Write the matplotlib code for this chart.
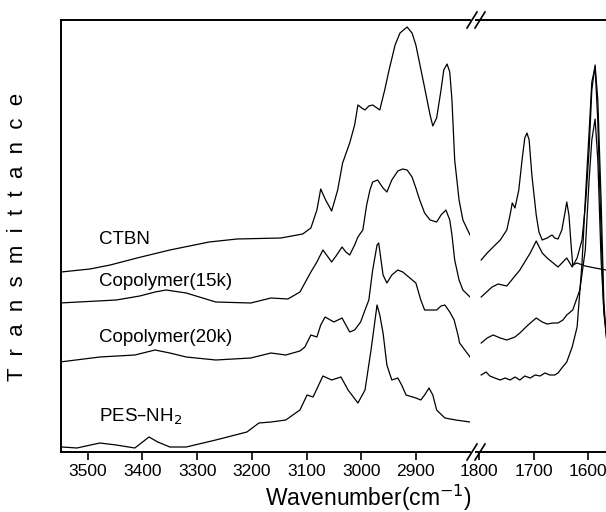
import matplotlib
matplotlib.use("Agg")
import matplotlib.pyplot as plt
from matplotlib.lines import Line2D

plt.rcParams['font.family'] = ['Liberation Sans', 'DejaVu Sans']

# ---------------- data (wavenumber cm-1, transmittance a.u.) ----------------
ctbn_left_wn = [3549, 3496, 3459, 3410, 3350, 3278, 3227, 3147, 3107, 3092, 3081, 3074, 3065,
                3054, 3043, 3034, 3021, 3012, 3006, 2999, 2993, 2986, 2979, 2971, 2966, 2957,
                2949, 2938, 2929, 2916, 2907, 2900, 2885, 2874, 2869, 2862, 2854, 2849, 2843,
                2838, 2834, 2829, 2821, 2814, 2801]
ctbn_left_t = [180, 183, 187, 194, 202, 210, 213, 214, 218, 224, 242, 263, 252,
               241, 262, 289, 309, 327, 347, 344, 342, 346, 347, 344, 342, 362,
               382, 407, 419, 425, 419, 407, 367, 337, 326, 334, 362, 382, 388,
               380, 352, 292, 252, 232, 217]
ctbn_right_wn = [1796, 1785, 1774, 1761, 1749, 1743, 1739, 1734, 1727, 1721, 1716, 1712, 1708,
                 1703, 1695, 1690, 1684, 1675, 1666, 1661, 1655, 1648, 1642, 1639, 1635, 1631,
                 1628, 1620, 1605, 1587, 1567, 1560]
ctbn_right_t = [192, 199, 205, 212, 222, 237, 249, 244, 262, 292, 314, 319, 312,
                277, 237, 220, 212, 214, 217, 214, 213, 222, 240, 250, 237, 207,
                187, 189, 186, 184, 182, 181]

c15_left_wn = [3551, 3448, 3405, 3377, 3357, 3320, 3266, 3202, 3165, 3134, 3112, 3103, 3092,
               3081, 3070, 3054, 3046, 3035, 3028, 3021, 3012, 3006, 2997, 2990, 2984, 2979,
               2970, 2960, 2953, 2944, 2933, 2924, 2916, 2907, 2900, 2893, 2884, 2874, 2862,
               2854, 2845, 2838, 2834, 2829, 2821, 2814, 2801]
c15_left_t = [149, 152, 156, 160, 162, 159, 150, 149, 154, 153, 160, 169, 180,
              190, 202, 190, 196, 205, 200, 197, 207, 215, 222, 247, 262, 270,
              272, 264, 260, 272, 281, 283, 282, 275, 264, 252, 239, 232, 230,
              237, 242, 232, 217, 192, 172, 162, 155]
c15_right_wn = [1796, 1776, 1765, 1749, 1725, 1706, 1695, 1684, 1675, 1655, 1639, 1629, 1620,
                1611, 1604, 1598, 1593, 1587, 1582, 1576, 1571, 1567, 1560]
c15_right_t = [155, 165, 168, 166, 182, 199, 211, 199, 194, 185, 194, 185, 194,
               212, 252, 302, 362, 387, 352, 252, 152, 117, 90]

c20_left_wn = [3551, 3478, 3414, 3377, 3350, 3320, 3266, 3202, 3165, 3138, 3112, 3103, 3092,
               3081, 3074, 3066, 3050, 3035, 3028, 3021, 3012, 3001, 2993, 2986, 2979, 2971,
               2968, 2960, 2953, 2944, 2933, 2924, 2900, 2891, 2884, 2874, 2862, 2854, 2847,
               2838, 2830, 2823, 2820, 2801]
c20_left_t = [90, 95, 97, 102, 99, 95, 92, 94, 99, 97, 101, 105, 117,
              115, 127, 135, 130, 134, 127, 120, 122, 130, 142, 152, 182, 207,
              209, 177, 169, 177, 182, 180, 169, 152, 142, 142, 142, 146, 147,
              140, 132, 117, 109, 95]
c20_right_wn = [1796, 1785, 1774, 1761, 1749, 1734, 1725, 1710, 1695, 1684, 1675, 1664, 1655,
                1646, 1639, 1628, 1615, 1605, 1598, 1593, 1587, 1582, 1576, 1571, 1567, 1560]
c20_right_t = [109, 114, 117, 114, 112, 115, 119, 127, 134, 130, 128, 129, 129,
               132, 137, 142, 162, 202, 272, 312, 333, 292, 192, 142, 122, 100]

pes_left_wn = [3547, 3520, 3478, 3448, 3414, 3388, 3372, 3350, 3320, 3266, 3209, 3187, 3165,
               3138, 3112, 3099, 3088, 3070, 3054, 3037, 3024, 3006, 2993, 2982, 2971, 2966,
               2960, 2953, 2944, 2933, 2926, 2918, 2900, 2891, 2884, 2876, 2869, 2862, 2847,
               2827, 2801]
pes_left_t = [5, 4, 9, 7, 4, 15, 10, 5, 5, 12, 20, 29, 30,
              32, 42, 57, 55, 76, 72, 75, 62, 49, 62, 102, 147, 137,
              119, 87, 72, 74, 67, 57, 54, 52, 57, 64, 57, 42, 34,
              32, 30]
pes_right_wn = [1796, 1787, 1780, 1771, 1761, 1752, 1743, 1734, 1725, 1716, 1706, 1697, 1688,
                1679, 1670, 1661, 1655, 1648, 1639, 1629, 1620, 1611, 1605, 1598, 1593, 1587,
                1582, 1576, 1571, 1567, 1560]
pes_right_t = [77, 80, 76, 74, 72, 74, 72, 75, 72, 76, 74, 77, 76,
               79, 77, 77, 79, 84, 90, 105, 125, 189, 252, 320, 370, 385,
               330, 220, 140, 120, 100]

labels = ['CTBN', 'Copolymer(15k)', 'Copolymer(20k)', 'PES\u2013NH$_2$']
label_wn = [3480, 3480, 3480, 3480]
label_t = [212, 170, 114, 35]

left_ticks = [3500, 3400, 3300, 3200, 3100, 3000, 2900]
right_ticks = [1800, 1700, 1600]

# ---------------- figure ----------------
W, H = 606, 512
fig = plt.figure(figsize=(W / 100, H / 100), dpi=100)

def frac(x0, x1, y_top, y_bot):
    return [x0 / W, 1 - y_bot / H, (x1 - x0) / W, (y_bot - y_top) / H]

ax1 = fig.add_axes(frac(61, 470, 20, 452))
ax2 = fig.add_axes(frac(476, 640, 20, 452))

lw = 0.9
ax1.plot(ctbn_left_wn, ctbn_left_t, color='black', lw=lw)
ax1.plot(c15_left_wn, c15_left_t, color='black', lw=lw)
ax1.plot(c20_left_wn, c20_left_t, color='black', lw=lw)
ax1.plot(pes_left_wn, pes_left_t, color='black', lw=lw)
ax2.plot(ctbn_right_wn, ctbn_right_t, color='black', lw=lw)
ax2.plot(c15_right_wn, c15_right_t, color='black', lw=lw)
ax2.plot(c20_right_wn, c20_right_t, color='black', lw=lw)
ax2.plot(pes_right_wn, pes_right_t, color='black', lw=lw)

ax1.set_xlim(3549, 2801)
ax2.set_xlim(1805.5, 1504.6)
for ax in (ax1, ax2):
    ax.set_ylim(0, 432)
    ax.set_yticks([])
    ax.spines['right'].set_visible(False)
    for s in ('top', 'bottom', 'left'):
        ax.spines[s].set_linewidth(1.4)
    ax.tick_params(axis='x', direction='out', length=5.5, width=1.2,
                   labelsize=12.5, pad=3)
ax2.spines['left'].set_visible(False)
ax1.set_xticks(left_ticks)
ax2.set_xticks(right_ticks)

for lab, x, y in zip(labels, label_wn, label_t):
    ax1.text(x, y, lab, fontsize=13.5, ha='left', va='center')

fig.text(368 / W, 1 - 506 / H, 'Wavenumber(cm$^{-1}$)', fontsize=16.5,
         ha='center', va='baseline')
fig.text(18 / W, 1 - 237 / H, 'T  r  a  n  s  m  i  t  t  a  n  c  e',
         fontsize=16, rotation=90, ha='center', va='center')

# break marks
for yb in (20, 452):
    for x0 in (467, 475):
        fig.add_artist(Line2D([x0 / W, (x0 + 10) / W],
                              [1 - (yb + 8) / H, 1 - (yb - 8) / H],
                              color='black', lw=1.2))

fig.savefig('out.png', dpi=100)
